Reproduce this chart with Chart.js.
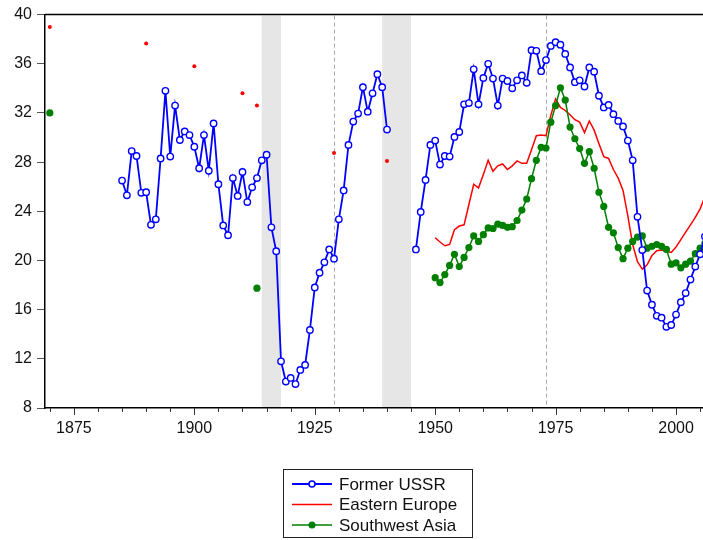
<!DOCTYPE html>
<html>
<head>
<meta charset="utf-8">
<script src="https://cdn.jsdelivr.net/npm/chart.js@4.4.1/dist/chart.umd.min.js"></script>
<style>
html,body{margin:0;padding:0;background:#fff;}
#wrap{position:relative;width:703px;height:540px;}
</style>
</head>
<body>
<div id="wrap"><canvas id="c" width="703" height="540"></canvas></div>
<script>
// ---------------- DATA ----------------
const seriesLabels = ['Former USSR', 'Eastern Europe', 'Southwest Asia'];

// Former USSR, annual, 1885-1940
const ussrStart1 = 1885;
const ussrValues1 = [26.5, 25.3, 28.9, 28.5, 25.5, 25.55, 22.9, 23.35, 28.3, 33.8,
  28.45, 32.6, 29.8, 30.5, 30.2, 29.25, 27.5, 30.2, 27.3, 31.15,
  26.2, 22.85, 22.05, 26.7, 25.25, 27.2, 24.75, 25.95, 26.7, 28.15,
  28.6, 22.7, 20.75, 11.8, 10.15, 10.45, 9.95, 11.1, 11.5, 14.35,
  17.8, 19.0, 19.85, 20.9, 20.15, 23.35, 25.7, 29.4, 31.3, 31.95,
  34.1, 32.1, 33.6, 35.15, 34.1, 30.65];
// Former USSR, annual, 1946-2006
const ussrStart2 = 1946;
const ussrValues2 = [20.9, 23.95, 26.55, 29.4, 29.75, 27.8, 28.5, 28.45, 30.05, 30.45,
  32.7, 32.8, 35.55, 32.7, 34.85, 36.0, 34.8, 32.6, 34.8, 34.6,
  34.0, 34.65, 35.05, 34.45, 37.1, 37.05, 35.4, 36.3, 37.45, 37.75,
  37.55, 36.8, 35.7, 34.5, 34.65, 34.15, 35.7, 35.35, 33.4, 32.45,
  32.65, 31.9, 31.35, 30.9, 29.75, 28.15, 23.55, 20.85, 17.55, 16.4,
  15.5, 15.35, 14.6, 14.75, 15.6, 16.6, 17.35, 18.45, 19.5, 20.5,
  21.95];

// Eastern Europe: isolated early observations
const eeDotYears = [1870, 1890, 1900, 1910, 1913, 1929, 1940];
const eeDotValues = [39.0, 37.65, 35.8, 33.6, 32.6, 28.75, 28.1];
// Eastern Europe: annual line 1950-2006
const eeLineStart = 1950;
const eeLineValues = [21.85, 21.5, 21.2, 21.3, 22.5, 22.8, 22.9, 24.55, 26.2, 25.9,
  27.0, 28.15, 27.25, 27.7, 27.85, 27.4, 27.7, 28.1, 27.9, 27.9,
  29.0, 30.15, 30.2, 30.15, 31.8, 33.15, 32.45, 32.2, 31.85, 31.45,
  31.25, 30.4, 31.35, 30.6, 29.5, 28.45, 28.3, 27.4, 26.7, 25.7,
  23.6, 21.3, 19.9, 19.3, 19.65, 20.4, 20.8, 20.85, 20.75, 20.65,
  21.1, 21.7, 22.3, 22.9, 23.5, 24.2, 25.2];

// Southwest Asia: isolated early observations
const swaDotYears = [1870, 1913];
const swaDotValues = [32.0, 17.75];
// Southwest Asia: annual line 1950-2006
const swaLineStart = 1950;
const swaLineValues = [18.6, 18.2, 18.85, 19.6, 20.5, 19.5, 20.25, 21.05, 22.0, 21.55,
  22.1, 22.65, 22.6, 22.95, 22.85, 22.7, 22.75, 23.25, 24.1, 25.0,
  26.65, 28.15, 29.2, 29.15, 31.25, 32.6, 34.05, 33.05, 30.85, 29.9,
  29.1, 27.9, 28.85, 27.5, 25.55, 24.4, 22.7, 22.25, 21.05, 20.15,
  21.0, 21.55, 21.9, 22.0, 21.0, 21.15, 21.3, 21.15, 20.9, 19.7,
  19.8, 19.4, 19.7, 19.95, 20.55, 21.0, 21.4];

// Shaded periods and dashed reference years
const shadedPeriods = [[1914, 1918], [1939, 1945]];
const dashedYears = [1929, 1973];

// Axis ticks
const xMajorLabels = [1875, 1900, 1925, 1950, 1975, 2000];
const yTickLabels = [8, 12, 16, 20, 24, 28, 32, 36, 40];

// ---------------- BUILD ----------------
function annual(start, vals) { return vals.map((v, i) => ({ x: start + i, y: v })); }
function dots(years, vals) {
  const out = [];
  years.forEach((yr, i) => { out.push({ x: yr, y: vals[i], iso: true }); out.push({ x: yr + 0.5, y: null }); });
  return out;
}
const ussrData = [...annual(ussrStart1, ussrValues1), { x: 1943, y: null }, ...annual(ussrStart2, ussrValues2)];
const eeData = [...dots(eeDotYears, eeDotValues), ...annual(eeLineStart, eeLineValues)];
const swaData = [...dots(swaDotYears, swaDotValues), ...annual(swaLineStart, swaLineValues)];

const FONT = "'Liberation Sans', Arial, sans-serif";
const BLUE = '#0000ff', RED = '#ff0000', GREEN = '#008000';

const framePlugin = {
  id: 'frame',
  beforeDatasetsDraw(chart) {
    const { ctx, chartArea: a, scales: { x } } = chart;
    ctx.save();
    ctx.fillStyle = '#e6e6e6';
    shadedPeriods.forEach(([s, e]) => {
      const x0 = x.getPixelForValue(s), x1 = x.getPixelForValue(e);
      ctx.fillRect(x0, a.top + 1, x1 - x0, a.bottom - a.top - 2);
    });
    ctx.strokeStyle = '#a8a8a8';
    ctx.lineWidth = 1;
    ctx.setLineDash([4, 3]);
    dashedYears.forEach(yr => {
      const px = Math.round(x.getPixelForValue(yr)) + 0.5;
      ctx.beginPath(); ctx.moveTo(px, a.top + 1); ctx.lineTo(px, a.bottom - 1); ctx.stroke();
    });
    ctx.restore();
  },
  afterDraw(chart) {
    const { ctx, chartArea: a, scales: { x } } = chart;
    ctx.save();
    // top border
    ctx.strokeStyle = '#000'; ctx.lineWidth = 1.5;
    ctx.beginPath(); ctx.moveTo(a.left, a.top); ctx.lineTo(a.right, a.top); ctx.stroke();
    // x tick marks (major every 25, minor every 5)
    ctx.strokeStyle = '#333'; ctx.lineWidth = 1;
    x.ticks.forEach(t => {
      const px = Math.round(x.getPixelForValue(t.value)) + 0.5;
      const len = xMajorLabels.includes(t.value) ? 7 : 4;
      ctx.beginPath(); ctx.moveTo(px, a.bottom); ctx.lineTo(px, a.bottom + len); ctx.stroke();
    });
    // legend
    const bx = 283.5, by = 469.5, bw = 189, bh = 68;
    ctx.strokeStyle = '#222'; ctx.lineWidth = 1;
    ctx.strokeRect(bx, by, bw, bh);
    const rows = [484, 504.5, 525];
    ctx.font = '17px ' + FONT; ctx.textBaseline = 'middle'; ctx.fillStyle = '#111';
    chart.data.datasets.forEach((ds, i) => {
      const yy = rows[i];
      ctx.strokeStyle = ds.borderColor; ctx.lineWidth = ds.borderWidth;
      ctx.beginPath(); ctx.moveTo(292, yy); ctx.lineTo(332, yy); ctx.stroke();
      if (i === 0) {
        ctx.beginPath(); ctx.arc(312, yy, 3, 0, Math.PI * 2);
        ctx.fillStyle = '#fff'; ctx.fill(); ctx.lineWidth = 1.5; ctx.strokeStyle = BLUE; ctx.stroke();
      } else if (i === 2) {
        ctx.beginPath(); ctx.arc(312, yy, 3.5, 0, Math.PI * 2);
        ctx.fillStyle = GREEN; ctx.fill();
      }
      ctx.fillStyle = '#111';
      ctx.fillText(ds.label, 339, yy + 1);
    });
    ctx.restore();
  }
};

new Chart(document.getElementById('c'), {
  type: 'line',
  data: {
    datasets: [
      { label: seriesLabels[0], data: ussrData, borderColor: BLUE, borderWidth: 1.8,
        pointRadius: 3.2, pointBorderWidth: 1.4, pointBackgroundColor: '#fff', pointBorderColor: BLUE,
        spanGaps: false, tension: 0, order: 0 },
      { label: seriesLabels[1], data: eeData, borderColor: RED, borderWidth: 1.5,
        pointRadius: c => (c.raw && c.raw.iso) ? 2 : 0, pointBorderWidth: 0,
        pointBackgroundColor: RED, pointBorderColor: RED, spanGaps: false, tension: 0, order: 2 },
      { label: seriesLabels[2], data: swaData, borderColor: GREEN, borderWidth: 1.5,
        pointRadius: 3.6, pointBorderWidth: 0, pointBackgroundColor: GREEN, pointBorderColor: GREEN,
        spanGaps: false, tension: 0, order: 1 }
    ]
  },
  options: {
    responsive: false,
    animation: false,
    devicePixelRatio: 1,
    layout: { autoPadding: false, padding: { top: 14, right: 0, left: 0, bottom: 0 } },
    plugins: { legend: { display: false }, tooltip: { enabled: false } },
    elements: { point: { hoverRadius: 3 } },
    scales: {
      x: {
        type: 'linear', min: 1869, max: 2005.6,
        afterFit: s => { s.height = 132; s.paddingRight = 0; s.paddingLeft = 0; },
        grid: { display: true, drawOnChartArea: false, drawTicks: true, tickLength: 7, color: 'rgba(0,0,0,0)' },
        border: { display: true, color: '#000', width: 1.5 },
        ticks: { stepSize: 5, includeBounds: false, autoSkip: false, maxRotation: 0, padding: 4,
          color: '#111', font: { family: FONT, size: 16 },
          callback: v => xMajorLabels.includes(v) ? String(v) : '' }
      },
      y: {
        min: 8, max: 40,
        afterFit: s => { s.width = 45; },
        afterBuildTicks: s => { s.ticks = yTickLabels.map(v => ({ value: v })); },
        grid: { display: true, drawOnChartArea: false, drawTicks: true, tickLength: 8, color: '#555' },
        border: { display: true, color: '#000', width: 1.5 },
        ticks: { padding: 5, color: '#111', font: { family: FONT, size: 16 } }
      }
    }
  },
  plugins: [framePlugin]
});
</script>
</body>
</html>
